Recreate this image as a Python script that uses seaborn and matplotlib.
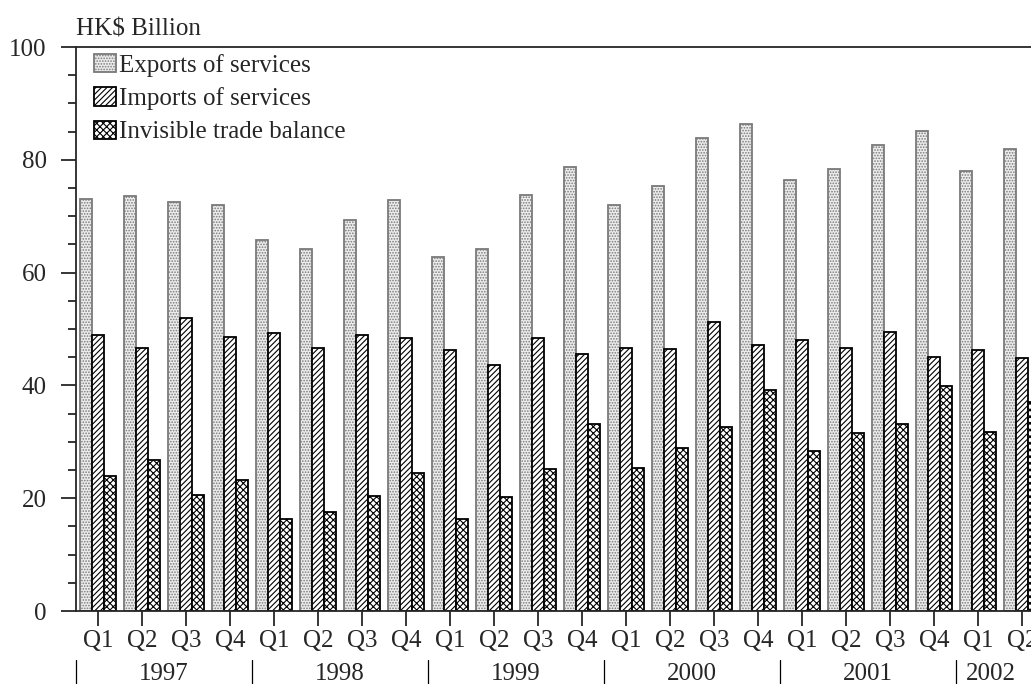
import matplotlib
matplotlib.use("Agg")
import matplotlib.pyplot as plt
import seaborn as sns
import pandas as pd

years = ["1997", "1998", "1999", "2000", "2001", "2002"]
quarters = ["Q1", "Q2", "Q3", "Q4"] * 5 + ["Q1", "Q2"]
periods = [f"{y} {q}" for y in years for q in ["Q1", "Q2", "Q3", "Q4"]][:22]

exports = [73.0, 73.5, 72.6, 72.0, 65.7, 64.2, 69.4, 72.9, 62.7, 64.1, 73.7, 78.7,
           71.9, 75.4, 83.9, 86.3, 76.4, 78.4, 82.6, 85.1, 78.1, 81.9]
imports = [48.9, 46.7, 52.0, 48.6, 49.3, 46.7, 48.9, 48.4, 46.3, 43.7, 48.4, 45.5,
           46.6, 46.5, 51.2, 47.2, 48.0, 46.7, 49.4, 45.1, 46.3, 44.8]
balance = [24.0, 26.8, 20.6, 23.3, 16.3, 17.5, 20.4, 24.4, 16.3, 20.3, 25.2, 33.2,
           25.3, 28.9, 32.7, 39.1, 28.4, 31.6, 33.2, 39.9, 31.8, 37.1]

series = ["Exports of services", "Imports of services", "Invisible trade balance"]

df = pd.DataFrame({
    "period": periods * 3,
    "value": exports + imports + balance,
    "series": [series[0]] * 22 + [series[1]] * 22 + [series[2]] * 22,
})

sns.set_style("ticks")
plt.rcParams["font.family"] = ["Liberation Serif", "DejaVu Serif"]
plt.rcParams["hatch.linewidth"] = 0.8

FS = 18

fig = plt.figure(figsize=(10.31, 6.84), dpi=100)
# axes runs a little past the right edge, as in the original
ax = fig.add_axes([76 / 1031, 73 / 684, 968 / 1031, 564 / 684])

sns.barplot(data=df, x="period", y="value", hue="series", order=periods,
            hue_order=series, palette=["white"] * 3, legend=False, ax=ax)

styles = [
    dict(face="#ececec", edge="#7a7a7a", hatch="......"),
    dict(face="white", edge="black", hatch="//////"),
    dict(face="white", edge="black", hatch="xxxxx"),
]
for cont, st in zip(ax.containers, styles):
    for p in cont:
        p.set_facecolor(st["face"])
        p.set_edgecolor(st["edge"])
        p.set_hatch(st["hatch"])
        p.set_linewidth(1.3)

ax.set_xlim(-0.5, 21.5)
ax.set_ylim(0, 100)
ax.set_yticks(range(0, 101, 20))
ax.set_yticks(range(0, 101, 5), minor=True)
ax.set_xticks(range(22))
ax.set_xticklabels(quarters)
ax.set_xlabel("")
ax.set_ylabel("")
ax.tick_params(axis="y", which="major", length=11, width=1.3, pad=10, labelsize=FS)
ax.tick_params(axis="y", which="minor", length=6, width=1.3)
ax.tick_params(axis="x", length=11, width=1.3, pad=3, labelsize=FS)

for s in ax.spines.values():
    s.set_linewidth(1.3)
ax.spines["right"].set_visible(False)

# year labels and separators under the quarter labels
trans = ax.get_xaxis_transform()
year_pos = [1.5, 5.5, 9.5, 13.5, 17.5, 20.3]
for y, xp in zip(years, year_pos):
    ax.text(xp, -0.112, y, transform=trans, ha="center", va="center", fontsize=FS)
for xs in [-0.5, 3.5, 7.5, 11.5, 15.5, 19.5]:
    ax.plot([xs, xs], [-0.086, -0.13], transform=trans, color="black",
            lw=0.9, clip_on=False)

ax.text(0.0, 1.012, "HK$ Billion", transform=ax.transAxes, ha="left",
        va="bottom", fontsize=FS)

ax.legend(handles=ax.containers, labels=series, loc="upper left",
          bbox_to_anchor=(0.008, 1.006), frameon=False, fontsize=FS,
          handlelength=0.9, handleheight=0.75, handletextpad=0.1,
          labelspacing=0.42, borderaxespad=0)

fig.savefig("out.png", dpi=100)
